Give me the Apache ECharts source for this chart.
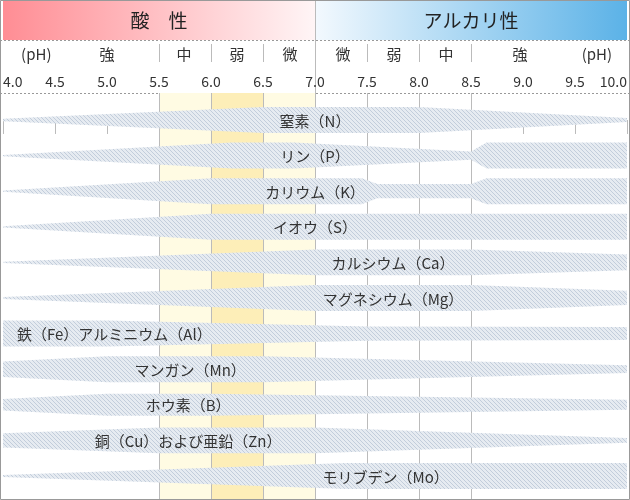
<!DOCTYPE html>
<html>
<head>
<meta charset="utf-8">
<script src="https://cdn.jsdelivr.net/npm/echarts@6/dist/echarts.min.js"></script>
<style>
  html, body { margin: 0; padding: 0; background: #fff; }
  #main { width: 630px; height: 500px; }
</style>
</head>
<body>
<div id="main"></div>
<script>
// 元素名
const elements = [
  '窒素（N）', 'リン（P）', 'カリウム（K）', 'イオウ（S）', 'カルシウム（Ca）',
  'マグネシウム（Mg）', '鉄（Fe）アルミニウム（Al）', 'マンガン（Mn）', 'ホウ素（B）',
  '銅（Cu）および亜鉛（Zn）', 'モリブデン（Mo）'
];
// ラベルの位置 (pH)
const labelPh = [7.0, 7.0, 7.0, 7.0, 7.75, 7.75, 5.07, 5.8, 5.78, 5.78, 7.68];

// 有効性の幅 [pH, 相対幅]
const nitrogen   = [[4, 0.1], [6.5, 1], [8, 1], [10, 0.15]];
const phosphorus = [[4, 0.05], [6.2, 1], [6.8, 1], [8.5, 0.32], [8.65, 1], [10, 1]];
const potassium  = [[4, 0.05], [6.0, 1], [7.45, 1], [7.6, 0.55], [8.5, 0.55], [8.65, 1], [10, 1]];
const sulfur     = [[4, 0.05], [6.0, 1], [10, 1]];
const calcium    = [[4, 0.05], [7.0, 1], [8.5, 1], [10, 0.6]];
const magnesium  = [[4, 0.08], [7.0, 1], [8.5, 1], [10, 0.55]];
const ironAl     = [[4, 1], [5.0, 1], [7.5, 0.55], [10, 0.5]];
const manganese  = [[4, 0.6], [5.0, 1], [6.5, 1], [10, 0.3]];
const boron      = [[4, 0.45], [5.0, 0.85], [6.0, 0.85], [10, 0.38]];
const copperZinc = [[4, 0.55], [5.5, 1], [7.0, 1], [10, 0.18]];
const molybdenum = [[4, 0.08], [7.3, 1], [10, 1]];
const profiles = [nitrogen, phosphorus, potassium, sulfur, calcium, magnesium,
  ironAl, manganese, boron, copperZinc, molybdenum];

// 目盛り・区分
const zoneRanges = [[5.5, 6.0], [6.0, 6.5], [6.5, 7.0]];
const fullLines = [5.5, 6.0, 6.5, 7.0, 7.5, 8.0, 8.5];
const strengthLabels = ['(pH)', '強', '中', '弱', '微', '微', '弱', '中', '強', '(pH)'];
const strengthPh = [4.32, 5.0, 5.74, 6.25, 6.76, 7.27, 7.76, 8.26, 8.97, 9.71];
const acidTitle = '酸　性';
const alkaliTitle = 'アルカリ性';

const FONT = '"Noto Sans CJK JP", "Noto Sans", sans-serif';
const Y_MIN = -0.758, Y_MAX = 10.675;
const HALF = 0.365;
const zoneColors = ['#fffbe3', '#fdeeb8', '#fffbe3'];

function makeHatch() {
  const c = document.createElement('canvas');
  c.width = 4; c.height = 4;
  const g = c.getContext('2d');
  g.fillStyle = '#e6ebf1';
  g.fillRect(0, 0, 4, 4);
  g.strokeStyle = '#c2cddb';
  g.lineWidth = 1;
  g.beginPath();
  g.moveTo(-1, -1); g.lineTo(5, 5);
  g.moveTo(-1, 3); g.lineTo(1, 5);
  g.moveTo(3, -1); g.lineTo(5, 1);
  g.stroke();
  return c;
}
const hatch = { image: makeHatch(), repeat: 'repeat' };

const chart = echarts.init(document.getElementById('main'));

const option = {
  animation: false,
  grid: { left: 0, right: 0, top: 93, bottom: 0 },
  xAxis: {
    type: 'value', min: 4, max: 10, interval: 0.5, position: 'top',
    axisLine: { show: false },
    axisTick: { show: true, inside: true, length: 14, lineStyle: { color: '#bbb' } },
    axisLabel: {
      margin: 4, fontSize: 14, color: '#333', fontFamily: FONT,
      formatter: v => v.toFixed(1),
      alignMinLabel: 'left', alignMaxLabel: 'right'
    },
    splitLine: { show: false }
  },
  yAxis: { type: 'value', inverse: true, min: Y_MIN, max: Y_MAX, show: false },
  series: [
    {
      type: 'custom', z: 1, silent: true,
      data: zoneRanges,
      renderItem: function (params, api) {
        const a = api.coord([api.value(0), Y_MIN]);
        const b = api.coord([api.value(1), Y_MAX]);
        return {
          type: 'rect',
          shape: { x: a[0], y: a[1], width: b[0] - a[0], height: b[1] - a[1] },
          style: { fill: zoneColors[params.dataIndex] }
        };
      }
    },
    {
      type: 'custom', z: 2, silent: true,
      data: fullLines,
      renderItem: function (params, api) {
        const a = api.coord([api.value(0), Y_MIN]);
        const b = api.coord([api.value(0), Y_MAX]);
        const x = Math.round(a[0]) + 0.5;
        return {
          type: 'line',
          shape: { x1: x, y1: a[1], x2: x, y2: b[1] },
          style: { stroke: '#bbb', lineWidth: 1 }
        };
      }
    },
    {
      type: 'custom', z: 3, silent: true,
      data: elements.map((name, i) => [i]),
      renderItem: function (params, api) {
        const i = api.value(0);
        const prof = profiles[i];
        const top = prof.map(p => api.coord([p[0], i - p[1] * HALF]));
        const bot = prof.slice().reverse().map(p => api.coord([p[0], i + p[1] * HALF]));
        const c = api.coord([labelPh[i], i]);
        return {
          type: 'group',
          children: [
            { type: 'polygon', shape: { points: top.concat(bot) }, style: { fill: hatch } },
            {
              type: 'text', x: c[0], y: c[1] + 1,
              style: {
                text: elements[i], fill: '#333', fontSize: 15, fontFamily: FONT,
                align: 'center', verticalAlign: 'middle',
                textAlign: 'center', textVerticalAlign: 'middle'
              }
            }
          ]
        };
      }
    }
  ]
};
chart.setOption(option);

// ヘッダー
const px = v => chart.convertToPixel({ xAxisIndex: 0 }, v);
const x4 = px(4), x7 = Math.round(px(7)), x10 = px(10);
const graphic = [
  {
    type: 'rect', z: 0, shape: { x: x4, y: 0, width: x7 - x4, height: 40 },
    style: { fill: new echarts.graphic.LinearGradient(0, 0, 1, 0, [
      { offset: 0, color: '#ff8d94' }, { offset: 1, color: '#fff5f6' }]) }
  },
  {
    type: 'rect', z: 0, shape: { x: x7, y: 0, width: x10 - x7, height: 40 },
    style: { fill: new echarts.graphic.LinearGradient(0, 0, 1, 0, [
      { offset: 0, color: '#f3f9fe' }, { offset: 1, color: '#5bb2e7' }]) }
  },
  {
    type: 'text', x: (x4 + x7) / 2, y: 21,
    style: { text: acidTitle, fontSize: 19, fontFamily: FONT, fill: '#222',
      align: 'center', verticalAlign: 'middle', textAlign: 'center', textVerticalAlign: 'middle' }
  },
  {
    type: 'text', x: (x7 + x10) / 2, y: 21,
    style: { text: alkaliTitle, fontSize: 19, fontFamily: FONT, fill: '#222',
      align: 'center', verticalAlign: 'middle', textAlign: 'center', textVerticalAlign: 'middle' }
  },
  {
    type: 'line', shape: { x1: 0, y1: 40.5, x2: 630, y2: 40.5 },
    style: { stroke: '#999', lineWidth: 1, lineDash: [2, 2] }
  },
  {
    type: 'line', shape: { x1: 0, y1: 93.5, x2: 630, y2: 93.5 },
    style: { stroke: '#999', lineWidth: 1, lineDash: [2, 2] }
  },
  {
    type: 'line', shape: { x1: x7 + 0.5, y1: 0, x2: x7 + 0.5, y2: 93 },
    style: { stroke: '#bbb', lineWidth: 1 }
  },
  {
    type: 'rect', shape: { x: 0.5, y: 0.5, width: 629, height: 499 },
    style: { fill: 'none', stroke: '#999', lineWidth: 1 }, z: 10
  }
];
fullLines.forEach(v => {
  const x = Math.round(px(v)) + 0.5;
  graphic.push({
    type: 'line', shape: { x1: x, y1: 44, x2: x, y2: 62 },
    style: { stroke: '#bbb', lineWidth: 1 }
  });
});
strengthLabels.forEach((t, i) => {
  graphic.push({
    type: 'text', x: px(strengthPh[i]), y: 54,
    style: { text: t, fontSize: 15, fontFamily: FONT, fill: '#333',
      align: 'center', verticalAlign: 'middle', textAlign: 'center', textVerticalAlign: 'middle' }
  });
});
chart.setOption({ graphic: graphic });
</script>
</body>
</html>
